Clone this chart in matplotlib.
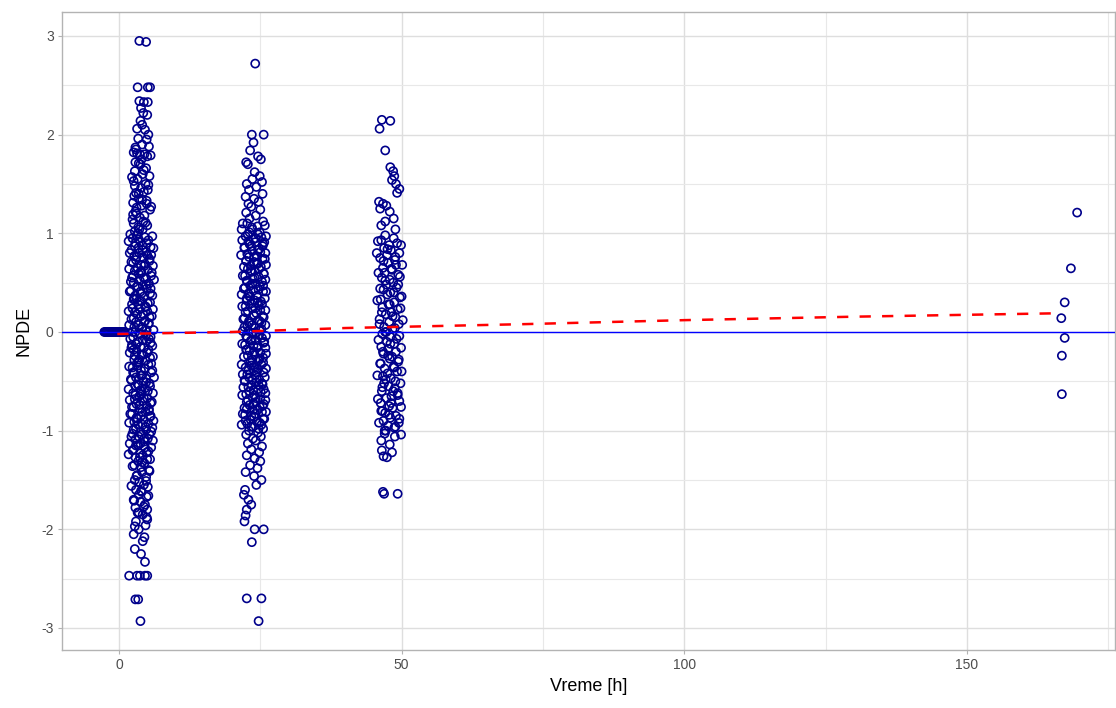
import matplotlib
matplotlib.use("Agg")
import matplotlib.pyplot as plt
from matplotlib.ticker import MultipleLocator

plt.rcParams['font.family'] = ['Liberation Sans', 'DejaVu Sans']
plt.rcParams['axes.unicode_minus'] = False

# ---- data ----
zero_x = [-2.6, -2.4, -2.2, -2.0, -1.8, -1.6, -1.4, -1.2, -1.0, -0.8, -0.6,
          -0.4, -0.2, 0.0, 0.2, 0.4, 0.6, 0.8, 1.0]
zero_y = [0.0] * len(zero_x)

c1_y = [2.95, 2.94, 2.48, 2.48, 2.48, 2.34, 2.33, 2.33, 2.27, 2.22,
        2.20, 2.14, 2.10, 2.06, 2.05, 2.00, 1.96, 1.90, 1.88, 1.85,
        1.82, 1.81, 1.80, 1.80, 1.78, 1.75, 1.72, 1.70, 1.66, 1.63,
        1.60, 1.58, 1.55, 1.53, 1.50, 1.48, 1.46, 1.44, 1.42, 1.40,
        1.38, 1.35, 1.33, 1.31, 1.30, 1.28, 1.26, 1.24, 1.22, 1.20,
        1.18, 1.16, 1.14, 1.12, 1.10, 1.08, 1.06, 1.04, 1.02, 1.00,
        0.98, 0.96, 0.95, 0.93, 0.91, 0.90, 0.88, 0.86, 0.85, 0.83,
        0.81, 0.80, 0.78, 0.77, 0.75, 0.73, 0.72, 0.70, 0.68, 0.67,
        0.65, 0.63, 0.62, 0.60, 0.59, 0.57, 0.55, 0.54, 0.52, 0.50,
        0.49, 0.47, 0.46, 0.44, 0.42, 0.41, 0.39, 0.37, 0.36, 0.34,
        0.33, 0.31, 0.29, 0.28, 0.26, 0.24, 0.23, 0.21, 0.20, 0.18,
        0.16, 0.15, 0.13, 0.11, 0.10, 0.08, 0.07, 0.05, 0.03, 0.02,
        0.00, -0.02, -0.03, -0.05, -0.07, -0.08, -0.10, -0.11, -0.13, -0.15,
        -0.16, -0.18, -0.20, -0.21, -0.23, -0.24, -0.26, -0.28, -0.29, -0.31,
        -0.33, -0.34, -0.36, -0.37, -0.39, -0.41, -0.42, -0.44, -0.46, -0.47,
        -0.49, -0.50, -0.52, -0.54, -0.55, -0.57, -0.59, -0.60, -0.62, -0.63,
        -0.65, -0.67, -0.68, -0.70, -0.72, -0.73, -0.75, -0.76, -0.78, -0.80,
        -0.81, -0.83, -0.85, -0.86, -0.88, -0.89, -0.91, -0.93, -0.94, -0.96,
        -0.98, -0.99, -1.01, -1.03, -1.04, -1.06, -1.08, -1.09, -1.11, -1.13,
        -1.15, -1.17, -1.19, -1.21, -1.23, -1.25, -1.27, -1.29, -1.31, -1.33,
        -1.35, -1.37, -1.40, -1.42, -1.45, -1.47, -1.50, -1.52, -1.55, -1.57,
        -1.60, -1.62, -1.65, -1.67, -1.70, -1.72, -1.75, -1.78, -1.80, -1.83,
        -1.85, -1.88, -1.92, -1.96, -2.00, -2.05, -2.12, -2.20, -2.33, -2.47,
        -2.47, -2.47, -2.47, -2.47, -2.71, -2.71, -2.93]
c1_x = [3.6, 4.8, 3.3, 5.1, 5.5, 3.6, 4.4, 5.1, 3.9, 4.3,
        5.0, 3.8, 4.1, 3.2, 4.6, 5.2, 3.4, 4.1, 5.3, 3.0,
        2.6, 3.2, 3.7, 4.5, 5.0, 4.0, 2.9, 3.8, 4.8, 2.8,
        4.2, 5.4, 3.3, 2.6, 4.7, 2.8, 3.9, 5.1, 4.4, 3.5,
        2.7, 3.5, 4.9, 2.5, 4.9, 4.0, 3.1, 5.5, 2.9, 3.1,
        4.5, 3.7, 2.4, 4.3, 2.6, 5.0, 3.4, 4.2, 2.8, 3.4,
        3.1, 4.6, 2.4, 5.2, 3.8, 2.9, 4.1, 5.6, 3.4, 2.2,
        4.8, 3.6, 5.0, 2.7, 4.3, 3.0, 5.4, 2.5, 3.9, 4.5,
        3.3, 5.1, 2.8, 4.0, 3.5, 5.7, 2.3, 4.7, 3.7, 2.6,
        5.3, 4.2, 3.2, 4.9, 2.1, 3.8, 5.5, 2.9, 4.4, 3.1,
        2.6, 4.0, 5.1, 3.4, 4.7, 2.4, 3.6, 5.0, 2.8, 4.3,
        3.9, 5.4, 2.2, 4.6, 3.0, 5.2, 3.5, 2.7, 4.1, 4.9,
        2.9, 3.7, 4.8, 2.5, 5.3, 4.2, 3.3, 5.6, 2.3, 3.8,
        4.4, 2.6, 3.1, 5.0, 4.0, 2.8, 5.5, 3.6, 4.7, 3.2,
        5.2, 3.4, 2.4, 4.5, 3.9, 5.7, 2.7, 4.1, 3.0, 4.8,
        2.2, 4.3, 5.4, 3.5, 2.9, 4.6, 3.8, 5.1, 2.5, 4.0,
        3.6, 5.0, 2.8, 4.2, 5.6, 3.1, 4.9, 2.6, 3.7, 5.3,
        4.1, 2.3, 3.9, 5.5, 3.3, 4.4, 2.7, 5.2, 3.4, 4.7,
        3.0, 4.8, 5.7, 2.4, 4.0, 3.5, 5.1, 2.9, 4.5, 3.8,
        3.0, 4.6, 2.6, 5.2, 3.7, 4.2, 2.9, 5.0, 3.4, 4.5,
        2.7, 3.9, 5.3, 4.1, 3.2, 4.8, 2.8, 3.6, 4.4, 5.1,
        3.0, 4.0, 3.5, 4.9, 2.6, 3.8, 4.6, 2.9, 5.0, 3.3,
        4.2, 4.9, 3.0, 4.7, 3.5, 2.6, 4.2, 2.8, 4.6, 1.8,
        3.2, 3.7, 4.6, 5.0, 2.9, 3.4, 3.8]

c1b_y = [1.95, 1.87, 1.79, 1.71, 1.64, 1.57, 1.49, 1.41, 1.34, 1.27,
         1.19, 1.11, 1.04,
         0.99, 0.97, 0.94, 0.92, 0.90, 0.87, 0.85, 0.83, 0.80, 0.78,
         0.76, 0.74, 0.71, 0.69, 0.67, 0.64, 0.62, 0.60, 0.57, 0.55,
         0.53, 0.51, 0.48, 0.46, 0.44, 0.41, 0.39, 0.37, 0.34, 0.32,
         0.30, 0.28, 0.25, 0.23, 0.21, 0.18, 0.16, 0.14, 0.11, 0.09,
         0.07, 0.05, 0.02, 0.00, -0.02, -0.05, -0.07, -0.09, -0.12, -0.14,
         -0.16, -0.18, -0.21, -0.23, -0.25, -0.28, -0.30, -0.32, -0.35, -0.37,
         -0.39, -0.41, -0.44, -0.46, -0.48, -0.51, -0.53, -0.55, -0.58, -0.60,
         -0.62, -0.64, -0.67, -0.69, -0.71, -0.74, -0.76, -0.78, -0.81, -0.83,
         -0.85, -0.87, -0.90, -0.92, -0.94, -0.97, -0.99, -1.01, -1.04, -1.06,
         -1.08, -1.10, -1.13, -1.15, -1.17, -1.20, -1.22, -1.24, -1.27, -1.29,
         -1.32, -1.36, -1.41, -1.46, -1.51, -1.56, -1.61, -1.66, -1.71, -1.77,
         -1.83, -1.90, -1.97, -2.08, -2.25]
c1b_x = [4.9, 2.9, 5.6, 3.5, 4.4, 2.3, 5.2, 3.0, 4.1, 5.7,
         2.5, 4.7, 3.6,
         2.0, 5.9, 3.5, 1.7, 4.9, 2.8, 6.1, 4.2, 1.9, 5.7,
         3.1, 5.4, 2.2, 4.6, 6.0, 1.8, 3.9, 5.8, 2.5, 4.4,
         6.2, 2.1, 4.8, 3.3, 5.6, 1.9, 4.0, 5.9, 2.7, 3.6,
         5.5, 2.3, 4.7, 6.0, 1.7, 3.2, 5.8, 2.6, 4.5, 5.3,
         1.8, 4.1, 6.1, 2.4, 3.8, 5.6, 2.0, 4.9, 3.0, 5.9,
         2.2, 5.2, 1.9, 4.3, 6.0, 2.7, 3.5, 5.7, 1.8, 4.6,
         5.9, 2.5, 3.9, 6.2, 2.1, 4.8, 3.3, 5.5, 1.7, 4.0,
         6.0, 2.9, 4.4, 1.9, 5.8, 3.6, 2.3, 5.3, 4.7, 2.0,
         5.6, 3.1, 6.1, 1.8, 4.2, 5.9, 2.6, 3.8, 5.4, 2.2,
         4.5, 6.0, 1.9, 3.4, 5.7, 2.4, 4.9, 1.7, 3.7, 5.5,
         4.1, 2.4, 5.4, 3.1, 4.8, 2.2, 3.9, 5.2, 2.7, 4.4,
         3.5, 5.0, 2.8, 4.5, 3.9]

c2_y = [2.72, 2.00, 2.00, 1.92, 1.84, 1.78, 1.75, 1.72, 1.70, 1.62,
        1.58, 1.55, 1.52, 1.50, 1.47, 1.44, 1.40, 1.37, 1.35, 1.32,
        1.30, 1.27, 1.24, 1.21, 1.18, 1.15, 1.12, 1.10, 1.07, 1.04,
        1.01, 0.99, 0.97, 0.96, 0.94, 0.92, 0.91, 0.89, 0.87, 0.86,
        0.84, 0.82, 0.81, 0.79, 0.77, 0.76, 0.74, 0.72, 0.71, 0.69,
        0.67, 0.66, 0.64, 0.62, 0.61, 0.59, 0.57, 0.56, 0.54, 0.52,
        0.51, 0.49, 0.47, 0.46, 0.44, 0.42, 0.41, 0.39, 0.37, 0.36,
        0.34, 0.32, 0.31, 0.29, 0.27, 0.26, 0.24, 0.22, 0.21, 0.19,
        0.17, 0.16, 0.14, 0.12, 0.11, 0.09, 0.07, 0.06, 0.04, 0.02,
        0.01, -0.01, -0.03, -0.04, -0.06, -0.08, -0.09, -0.11, -0.13, -0.14,
        -0.16, -0.18, -0.19, -0.21, -0.23, -0.24, -0.26, -0.28, -0.29, -0.31,
        -0.33, -0.34, -0.36, -0.38, -0.39, -0.41, -0.43, -0.44, -0.46, -0.48,
        -0.49, -0.51, -0.53, -0.54, -0.56, -0.58, -0.59, -0.61, -0.63, -0.64,
        -0.66, -0.68, -0.69, -0.71, -0.73, -0.74, -0.76, -0.78, -0.79, -0.81,
        -0.83, -0.84, -0.86, -0.88, -0.89, -0.91, -0.93, -0.94, -0.96, -0.98,
        -1.00, -1.02, -1.04, -1.06, -1.08, -1.10, -1.13, -1.16, -1.19, -1.22,
        -1.25, -1.28, -1.31, -1.35, -1.38, -1.42, -1.46, -1.50, -1.55, -1.60,
        -1.65, -1.70, -1.75, -1.80, -1.86, -1.92, -2.00, -2.00, -2.13, -2.70,
        -2.70, -2.93]
c2_x = [24.1, 23.5, 25.6, 23.8, 23.2, 24.6, 25.1, 22.5, 22.8, 24.0,
        24.9, 23.6, 25.3, 22.6, 24.3, 23.0, 25.4, 22.4, 23.9, 24.7,
        22.9, 23.4, 25.0, 22.5, 24.2, 23.1, 25.5, 22.7, 24.5, 23.6,
        23.1, 24.6, 22.4, 25.2, 23.8, 22.9, 24.1, 25.5, 23.4, 22.2,
        24.8, 23.6, 25.0, 22.7, 24.3, 23.0, 25.4, 22.5, 23.9, 24.5,
        23.3, 25.1, 22.8, 24.0, 23.5, 25.6, 22.3, 24.7, 23.7, 22.6,
        25.3, 24.2, 23.2, 24.9, 22.1, 23.8, 25.5, 22.9, 24.4, 23.1,
        22.6, 24.0, 25.1, 23.4, 24.7, 22.4, 23.6, 25.0, 22.8, 24.3,
        23.9, 25.4, 22.2, 24.6, 23.0, 25.2, 23.5, 22.7, 24.1, 24.9,
        22.9, 23.7, 24.8, 22.5, 25.3, 24.2, 23.3, 25.6, 22.3, 23.8,
        24.4, 22.6, 23.1, 25.0, 24.0, 22.8, 25.5, 23.6, 24.7, 23.2,
        25.2, 23.4, 22.4, 24.5, 23.9, 25.6, 22.7, 24.1, 23.0, 24.8,
        22.2, 24.3, 25.4, 23.5, 22.9, 24.6, 23.8, 25.1, 22.5, 24.0,
        23.6, 25.0, 22.8, 24.2, 25.6, 23.1, 24.9, 22.6, 23.7, 25.3,
        24.1, 22.3, 23.9, 25.5, 23.3, 24.4, 22.7, 25.2, 23.4, 24.7,
        23.0, 24.6, 22.5, 25.1, 23.7, 24.2, 22.8, 25.3, 23.4, 24.8,
        22.6, 24.0, 25.0, 23.2, 24.5, 22.4, 23.9, 25.2, 24.3, 22.3,
        22.1, 22.9, 23.4, 22.6, 22.4, 22.2, 24.0, 25.6, 23.5, 22.6,
        25.2, 24.7]

c2b_y = [1.10, 1.08, 1.06, 1.04, 1.01, 0.99, 0.97, 0.95, 0.93, 0.91,
         0.89, 0.87, 0.85, 0.83, 0.80, 0.78, 0.76, 0.74, 0.72, 0.70,
         0.68, 0.66, 0.64, 0.62, 0.59, 0.57, 0.55, 0.53, 0.51, 0.49,
         0.47, 0.45, 0.43, 0.41, 0.38, 0.36, 0.34, 0.32, 0.30, 0.28,
         0.26, 0.24, 0.22, 0.20, 0.17, 0.15, 0.13, 0.11, 0.09, 0.07,
         0.05, 0.03, 0.01, -0.01, -0.04, -0.06, -0.08, -0.10, -0.12, -0.14,
         -0.16, -0.18, -0.20, -0.22, -0.25, -0.27, -0.29, -0.31, -0.33, -0.35,
         -0.37, -0.39, -0.41, -0.43, -0.46, -0.48, -0.50, -0.52, -0.54, -0.56,
         -0.58, -0.60, -0.62, -0.64, -0.67, -0.69, -0.71, -0.73, -0.75, -0.77,
         -0.79, -0.81, -0.83, -0.85, -0.88, -0.90, -0.92, -0.94, -0.96, -0.98]
c2b_x = [21.9, 25.8, 23.5, 21.7, 24.9, 22.8, 26.0, 24.2, 21.8, 25.7,
         23.1, 25.4, 22.2, 24.6, 25.9, 21.6, 23.9, 25.8, 22.5, 24.4,
         26.0, 22.1, 24.8, 23.3, 25.6, 21.9, 24.0, 25.9, 22.7, 23.6,
         25.5, 22.3, 24.7, 26.0, 21.7, 23.2, 25.8, 22.6, 24.5, 25.3,
         21.8, 24.1, 25.9, 22.4, 23.8, 25.6, 22.0, 24.9, 23.0, 25.9,
         22.2, 25.2, 21.9, 24.3, 26.0, 22.7, 23.5, 25.7, 21.8, 24.6,
         25.9, 22.5, 23.9, 26.0, 22.1, 24.8, 23.3, 25.5, 21.7, 24.0,
         26.0, 22.9, 24.4, 21.9, 25.8, 23.6, 22.3, 25.3, 24.7, 22.0,
         25.6, 23.1, 25.9, 21.8, 24.2, 25.9, 22.6, 23.8, 25.4, 22.2,
         24.5, 26.0, 21.9, 23.4, 25.7, 22.4, 24.9, 21.7, 23.7, 25.5]

c3_y = [2.15, 2.14, 2.06, 1.84, 1.67, 1.63, 1.58, 1.54, 1.50, 1.45,
        1.41, 1.32, 1.30, 1.28, 1.25, 1.22, 1.15, 1.12, 1.08, 1.04,
        0.98, 0.95, 0.93, 0.90, 0.88, 0.85, 0.83, 0.80, 0.78, 0.75,
        0.73, 0.70, 0.68, 0.65, 0.63, 0.60, 0.58, 0.55, 0.53, 0.50,
        0.48, 0.45, 0.43, 0.40, 0.38, 0.35, 0.33, 0.30, 0.28, 0.25,
        0.23, 0.20, 0.18, 0.15, 0.13, 0.10, 0.08, 0.05, 0.03, 0.00,
        -0.02, -0.05, -0.07, -0.10, -0.12, -0.15, -0.17, -0.20, -0.22, -0.25,
        -0.27, -0.30, -0.32, -0.35, -0.37, -0.40, -0.42, -0.45, -0.47, -0.50,
        -0.52, -0.55, -0.57, -0.60, -0.62, -0.65, -0.67, -0.70, -0.72, -0.75,
        -0.77, -0.80, -0.82, -0.85, -0.87, -0.90, -0.92, -0.95, -0.97, -1.00,
        -1.03, -1.06, -1.10, -1.14, -1.20, -1.22, -1.26, -1.27, -1.62, -1.64,
        -1.64]
c3_x = [46.5, 48.0, 46.1, 47.1, 48.0, 48.5, 48.7, 48.3, 49.0, 49.6,
        49.2, 46.0, 46.7, 47.3, 46.2, 47.9, 48.6, 47.1, 46.4, 48.9,
        47.1, 48.6, 46.4, 49.2, 47.8, 46.9, 48.1, 49.6, 47.4, 46.2,
        48.8, 47.6, 49.0, 46.7, 48.3, 47.0, 49.4, 46.5, 47.9, 48.5,
        47.3, 49.1, 46.8, 48.0, 47.5, 49.7, 46.3, 48.7, 47.7, 46.6,
        49.3, 48.2, 47.2, 48.9, 46.1, 47.8, 49.5, 46.9, 48.4, 47.1,
        46.6, 48.0, 49.1, 47.4, 48.7, 46.4, 47.6, 49.0, 46.8, 48.3,
        47.9, 49.4, 46.2, 48.6, 47.0, 49.2, 47.5, 46.7, 48.1, 48.9,
        46.9, 47.7, 48.8, 46.5, 49.3, 48.2, 47.3, 49.6, 46.3, 47.8,
        48.4, 46.6, 47.1, 49.0, 48.0, 46.8, 49.5, 47.6, 48.7, 47.2,
        47.0, 48.8, 46.4, 47.9, 46.5, 48.3, 46.8, 47.4, 46.7, 46.9,
        49.3]

c3b_y = [0.92, 0.88, 0.84, 0.80, 0.76, 0.72, 0.68, 0.64, 0.60, 0.56,
         0.52, 0.48, 0.44, 0.40, 0.36, 0.32, 0.28, 0.24, 0.20, 0.16,
         0.12, 0.08, 0.04, 0.00, -0.04, -0.08, -0.12, -0.16, -0.20, -0.24,
         -0.28, -0.32, -0.36, -0.40, -0.44, -0.48, -0.52, -0.56, -0.60, -0.64,
         -0.68, -0.72, -0.76, -0.80, -0.84, -0.88, -0.92, -0.96, -1.00, -1.04]
c3b_x = [45.8, 49.9, 47.5, 45.6, 48.9, 46.8, 50.1, 48.2, 45.9, 49.7,
         47.1, 49.4, 46.2, 48.6, 50.0, 45.7, 47.9, 49.8, 46.5, 48.4,
         50.2, 46.1, 48.8, 47.3, 49.6, 45.9, 48.0, 49.9, 46.7, 47.6,
         49.5, 46.3, 48.7, 50.0, 45.7, 47.2, 49.8, 46.6, 48.5, 49.3,
         45.8, 48.1, 49.9, 46.4, 47.8, 49.6, 46.0, 48.9, 47.0, 49.9]

c4_x = [169.5, 168.4, 167.3, 166.7, 167.3, 166.8, 166.8]
c4_y = [1.21, 0.645, 0.30, 0.14, -0.06, -0.24, -0.63]

smooth_x = [-0.3, 5, 10, 20, 30, 40, 48, 60, 72, 100, 130, 166.5]
smooth_y = [-0.02, -0.015, -0.01, 0.0, 0.02, 0.04, 0.05, 0.065, 0.08, 0.12, 0.155, 0.19]

# ---- figure ----
W, H = 1116, 708
fig = plt.figure(figsize=(W / 100, H / 100), dpi=100)
ax = fig.add_axes([62 / W, (H - 650) / H, (1115 - 62) / W, (650 - 12) / H])

xs = zero_x + c1_x + c1b_x + c2_x + c2b_x + c3_x + c3b_x + c4_x
ys = zero_y + c1_y + c1b_y + c2_y + c2b_y + c3_y + c3b_y + c4_y
ax.scatter(xs, ys, s=34, facecolors='none', edgecolors='#00008B',
           linewidths=1.2, zorder=3)

ax.axhline(0, color='#0000FF', lw=1.0, zorder=4)
ax.plot(smooth_x, smooth_y, color='#FF0000', lw=1.8, dashes=(4.5, 4.5), zorder=5)

ax.set_xlim(-10.08, 176.2)
ax.set_ylim(-3.223, 3.243)
ax.xaxis.set_major_locator(MultipleLocator(50))
ax.xaxis.set_minor_locator(MultipleLocator(25))
ax.yaxis.set_major_locator(MultipleLocator(1))
ax.yaxis.set_minor_locator(MultipleLocator(0.5))

ax.grid(which='major', color='#DEDEDE', lw=1.0, zorder=0)
ax.grid(which='minor', color='#E8E8E8', lw=0.8, zorder=0)
ax.set_axisbelow(True)
for sp in ax.spines.values():
    sp.set_color('#B3B3B3')
    sp.set_linewidth(1.0)

ax.tick_params(which='major', length=3, width=0.8, color='#B3B3B3',
               labelsize=10, labelcolor='#4D4D4D', pad=3)
ax.tick_params(which='minor', length=0)

ax.set_xlabel('Vreme [h]', fontsize=13, color='black', labelpad=4)
ax.set_ylabel('NPDE', fontsize=13, color='black', labelpad=6)

fig.savefig('out.png', dpi=100)
